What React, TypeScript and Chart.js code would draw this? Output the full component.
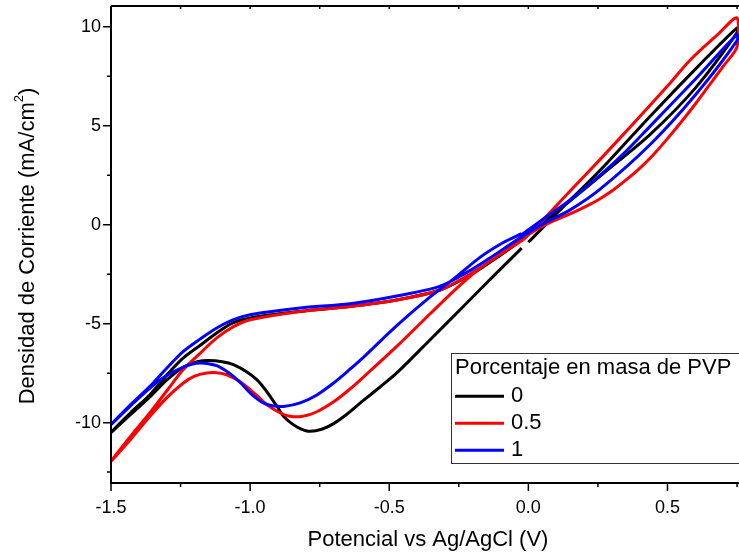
import React, { useEffect, useRef } from 'react';
import { Chart, registerables } from 'chart.js';

Chart.register(...registerables);

const FONT = "'Liberation Sans', Arial, Helvetica, sans-serif";

const seriesLabels = ['0', '0.5', '1'];
const seriesColors = ['#000000', '#ff0000', '#0000ff'];
const legendTitle = 'Porcentaje en masa de PVP';
const xTitle = 'Potencial vs Ag/AgCl (V)';
const yTitleMain = 'Densidad de Corriente (mA/cm';
const yTitleSup = '2';
const yTitleEnd = ')';

const xMajorTicks = [-1.5, -1.0, -0.5, 0, 0.5];
const xMinorTicks = [-1.25, -0.75, -0.25, 0.25, 0.75];
const yMajorTicks = [-10, -5, 0, 5, 10];
const yMinorTicks = [-12.5, -7.5, -2.5, 2.5, 7.5];

// 0 % PVP
const pvp0X = [0.0, 0.1, 0.258, 0.437, 0.61, 0.75, 0.75, 0.6, 0.437, 0.27, 0.15, 0.05, 0.0, -0.066, -0.138, -0.21, -0.317, -0.473, -0.641, -0.82, -1.0, -1.06, -1.12, -1.18, -1.24, -1.3, -1.36, -1.43, -1.5, -1.43, -1.36, -1.3, -1.24, -1.19, -1.15, -1.1, -1.06, -1.01, -0.976, -0.95, -0.928, -0.9, -0.88, -0.85, -0.82, -0.785, -0.74, -0.7, -0.65, -0.593, -0.533, -0.473, -0.353, -0.234, -0.113, -0.024];
const pvp0Y = [-0.89, 0.55, 2.75, 5.47, 8.0, 9.95, 9.7, 6.9, 4.55, 2.6, 1.2, 0.05, -0.5, -1.2, -1.9, -2.55, -3.3, -3.8, -4.13, -4.38, -4.71, -4.95, -5.47, -6.1, -6.73, -7.6, -8.59, -9.5, -10.5, -9.6, -8.7, -7.85, -7.2, -6.92, -6.86, -6.92, -7.07, -7.45, -7.83, -8.25, -8.67, -9.25, -9.68, -10.05, -10.3, -10.44, -10.32, -10.05, -9.55, -8.88, -8.2, -7.49, -5.81, -4.13, -2.42, -1.18];

// 0.5 % PVP
const pvp05X = [-0.018, 0.03, 0.15, 0.258, 0.39, 0.509, 0.58, 0.68, 0.75, 0.75, 0.7, 0.65, 0.6, 0.55, 0.5, 0.45, 0.4, 0.35, 0.3, 0.25, 0.2, 0.15, 0.1, 0.054, 0.0, -0.066, -0.138, -0.21, -0.317, -0.473, -0.641, -0.82, -1.0, -1.06, -1.12, -1.18, -1.24, -1.3, -1.36, -1.43, -1.5, -1.43, -1.36, -1.3, -1.24, -1.2, -1.156, -1.12, -1.084, -1.04, -1.0, -0.97, -0.94, -0.9, -0.857, -0.81, -0.76, -0.7, -0.641, -0.593, -0.473, -0.353, -0.257, -0.174, -0.09, -0.018];
const pvp05Y = [-0.76, -0.1, 1.7, 3.3, 5.3, 7.15, 8.3, 9.6, 10.45, 9.0, 8.0, 7.05, 6.1, 5.2, 4.35, 3.55, 2.85, 2.25, 1.7, 1.25, 0.88, 0.55, 0.25, -0.05, -0.5, -1.15, -1.85, -2.5, -3.3, -3.8, -4.13, -4.38, -4.8, -5.15, -5.72, -6.5, -7.32, -8.4, -9.5, -10.7, -11.95, -10.85, -9.68, -8.75, -8.0, -7.65, -7.49, -7.48, -7.58, -7.9, -8.33, -8.7, -9.09, -9.45, -9.68, -9.68, -9.45, -8.95, -8.3, -7.7, -6.15, -4.5, -3.2, -2.2, -1.4, -0.76];

// 1 % PVP
const pvp1X = [-0.024, 0.05, 0.15, 0.258, 0.35, 0.437, 0.6, 0.75, 0.75, 0.6, 0.437, 0.258, 0.15, 0.06, 0.0, -0.066, -0.138, -0.21, -0.317, -0.473, -0.641, -0.82, -1.0, -1.06, -1.12, -1.18, -1.24, -1.3, -1.36, -1.43, -1.5, -1.43, -1.36, -1.3, -1.24, -1.21, -1.18, -1.15, -1.12, -1.09, -1.06, -1.03, -1.0, -0.975, -0.953, -0.92, -0.88, -0.82, -0.76, -0.7, -0.641, -0.593, -0.473, -0.353, -0.257, -0.174, -0.09, -0.024];
const pvp1Y = [-0.5, 0.25, 1.25, 2.5, 3.7, 4.97, 7.35, 9.6, 9.3, 6.55, 4.04, 1.8, 0.75, 0.1, -0.4, -1.0, -1.68, -2.32, -3.1, -3.6, -3.99, -4.21, -4.55, -4.8, -5.22, -5.78, -6.4, -7.25, -8.17, -9.1, -10.1, -9.15, -8.25, -7.62, -7.19, -7.05, -6.99, -7.02, -7.12, -7.35, -7.66, -8.05, -8.5, -8.8, -9.0, -9.15, -9.18, -9.0, -8.6, -8.0, -7.3, -6.7, -5.1, -3.65, -2.61, -1.65, -0.9, -0.45];

const seriesX = [pvp0X, pvp05X, pvp1X];
const seriesY = [pvp0Y, pvp05Y, pvp1Y];

const xTickValues = [...xMajorTicks, ...xMinorTicks].sort((a, b) => a - b);
const yTickValues = [...yMajorTicks, ...yMinorTicks].sort((a, b) => a - b);

const decorPlugin = {
  id: 'decor',
  afterDraw(chart: any) {
    const { ctx, chartArea: ca, scales } = chart;
    const xs = scales.x;
    const ys = scales.y;
    ctx.save();
    // tick marks
    ctx.strokeStyle = '#000';
    ctx.lineWidth = 1.5;
    ctx.beginPath();
    yMajorTicks.forEach((v) => {
      const p = ys.getPixelForValue(v);
      ctx.moveTo(ca.left - 8, p);
      ctx.lineTo(ca.left, p);
    });
    yMinorTicks.forEach((v) => {
      const p = ys.getPixelForValue(v);
      ctx.moveTo(ca.left - 4, p);
      ctx.lineTo(ca.left, p);
    });
    xMajorTicks.forEach((v) => {
      const p = xs.getPixelForValue(v);
      ctx.moveTo(p, ca.bottom);
      ctx.lineTo(p, ca.bottom + 8);
      ctx.moveTo(p, ca.top);
      ctx.lineTo(p, ca.top + 3);
    });
    xMinorTicks.forEach((v) => {
      const p = xs.getPixelForValue(v);
      ctx.moveTo(p, ca.bottom);
      ctx.lineTo(p, ca.bottom + 4);
      ctx.moveTo(p, ca.top);
      ctx.lineTo(p, ca.top + 3);
    });
    ctx.stroke();
    // frame
    ctx.lineWidth = 2;
    ctx.beginPath();
    ctx.moveTo(ca.left, ca.top);
    ctx.lineTo(ca.left, ca.bottom);
    ctx.lineTo(ca.right, ca.bottom);
    ctx.moveTo(ca.left, ca.top);
    ctx.lineTo(ca.right, ca.top);
    ctx.stroke();

    // axis titles
    ctx.fillStyle = '#000';
    ctx.font = `22px ${FONT}`;
    ctx.textAlign = 'center';
    ctx.textBaseline = 'middle';
    ctx.fillText(xTitle, 428, 540);

    ctx.save();
    ctx.translate(27.5, 246);
    ctx.rotate(-Math.PI / 2);
    ctx.textAlign = 'left';
    ctx.font = `22px ${FONT}`;
    const w1 = ctx.measureText(yTitleMain).width;
    const w3 = ctx.measureText(yTitleEnd).width;
    ctx.font = `13px ${FONT}`;
    const w2 = ctx.measureText(yTitleSup).width;
    const total = w1 + w2 + w3;
    let cx = -total / 2;
    ctx.font = `22px ${FONT}`;
    ctx.fillText(yTitleMain, cx, 0);
    cx += w1;
    ctx.font = `13px ${FONT}`;
    ctx.fillText(yTitleSup, cx, -8);
    cx += w2;
    ctx.font = `22px ${FONT}`;
    ctx.fillText(yTitleEnd, cx, 0);
    ctx.restore();

    // legend
    const lx = 451.5;
    const ly = 353.5;
    ctx.fillStyle = '#fff';
    ctx.fillRect(lx, ly, 300, 110);
    ctx.strokeStyle = '#333';
    ctx.lineWidth = 1;
    ctx.strokeRect(lx, ly, 300, 110);
    ctx.fillStyle = '#000';
    ctx.font = `22px ${FONT}`;
    ctx.textAlign = 'left';
    ctx.textBaseline = 'middle';
    ctx.fillText(legendTitle, 455, 367.5);
    chart.data.datasets.forEach((ds: any, i: number) => {
      const y = 396.3 + i * 27;
      ctx.strokeStyle = ds.borderColor;
      ctx.lineWidth = 3;
      ctx.beginPath();
      ctx.moveTo(455, y);
      ctx.lineTo(504, y);
      ctx.stroke();
      ctx.fillStyle = '#000';
      ctx.fillText(ds.label, 511, y);
    });
    ctx.restore();
  },
};

export default function App() {
  const canvasRef = useRef<HTMLCanvasElement | null>(null);

  useEffect(() => {
    if (!canvasRef.current) return;
    const datasets = seriesLabels.map((label, i) => ({
      label,
      data: seriesX[i].map((x, j) => ({ x, y: seriesY[i][j] })),
      borderColor: seriesColors[i],
      backgroundColor: seriesColors[i],
      borderWidth: 3,
      pointRadius: 0,
      showLine: true,
      tension: 0.3,
      fill: false,
      order: 3 - i,
    }));
    const chart = new Chart(canvasRef.current, {
      type: 'scatter',
      data: { datasets },
      options: {
        responsive: false,
        animation: false,
        devicePixelRatio: 1,
        layout: { padding: { top: 6, left: 0, right: 0, bottom: 0 } },
        plugins: { legend: { display: false }, tooltip: { enabled: false } },
        scales: {
          x: {
            type: 'linear',
            min: -1.5,
            max: 0.757,
            grid: { display: false, drawTicks: false },
            border: { display: false },
            ticks: {
              autoSkip: false,
              maxRotation: 0,
              padding: 14,
              color: '#000',
              font: { family: FONT, size: 18 },
              callback: (v: any) => (xMajorTicks.includes(Number(v)) ? Number(v).toFixed(1) : ''),
            },
            afterBuildTicks: (s: any) => {
              s.ticks = xTickValues.map((v) => ({ value: v }));
            },
            afterFit: (s: any) => {
              s.height = 72;
              s.paddingLeft = 0;
              s.paddingRight = 0;
            },
          },
          y: {
            type: 'linear',
            min: -13.05,
            max: 11.05,
            grid: { display: false, drawTicks: false },
            border: { display: false },
            ticks: {
              autoSkip: false,
              padding: 10,
              color: '#000',
              font: { family: FONT, size: 18 },
              callback: (v: any) => (yMajorTicks.includes(Number(v)) ? String(v) : ''),
            },
            afterBuildTicks: (s: any) => {
              s.ticks = yTickValues.map((v) => ({ value: v }));
            },
            afterFit: (s: any) => {
              s.width = 111;
              s.paddingTop = 0;
              s.paddingBottom = 0;
            },
          },
        },
      } as any,
      plugins: [decorPlugin],
    });
    return () => chart.destroy();
  }, []);

  return (
    <div style={{ position: 'fixed', left: 0, top: 0, width: 739, height: 555, background: '#fff' }}>
      <canvas ref={canvasRef} width={739} height={555} style={{ display: 'block' }} />
    </div>
  );
}
